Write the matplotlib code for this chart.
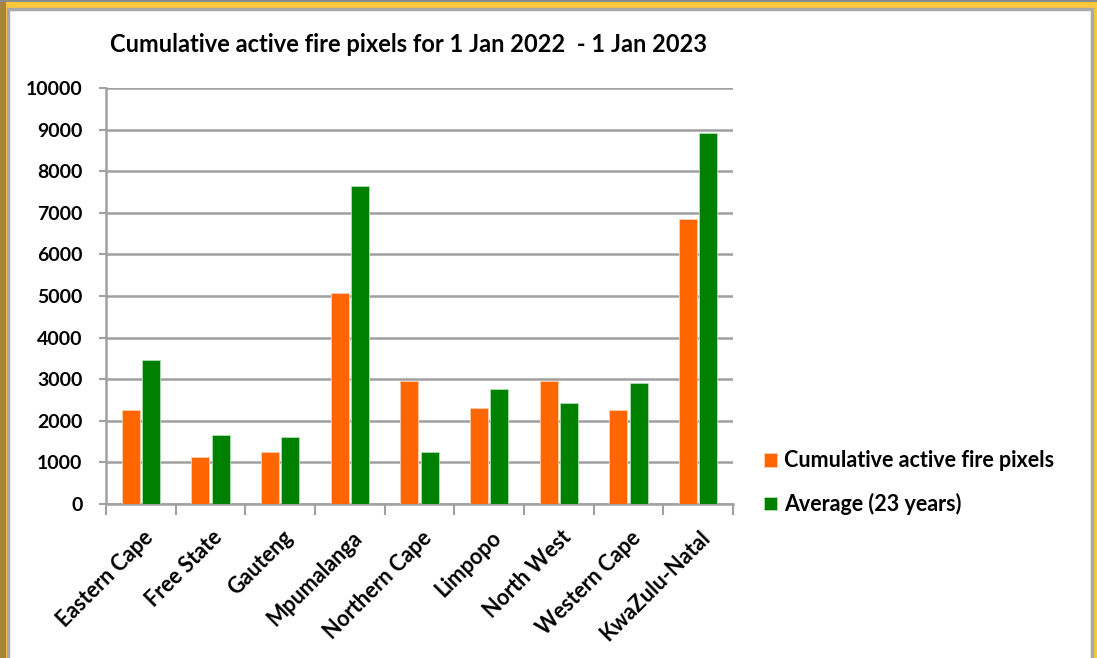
import matplotlib
matplotlib.use("Agg")
import matplotlib.pyplot as plt
import numpy as np
from matplotlib.patches import Rectangle

categories = ["Eastern Cape", "Free State", "Gauteng", "Mpumalanga", "Northern Cape",
              "Limpopo", "North West", "Western Cape", "KwaZulu-Natal"]
cumulative = [2260, 1140, 1260, 5070, 2950, 2300, 2950, 2260, 6850]
average = [3470, 1650, 1600, 7640, 1250, 2760, 2430, 2900, 8930]
yticks = list(range(0, 10001, 1000))

W, H = 1097, 658
fig = plt.figure(figsize=(W / 100, H / 100), dpi=100)
fig.patch.set_facecolor("#FFC73A")

def px(x0, y0, x1, y1, **kw):
    fig.patches.append(Rectangle((x0 / W, 1 - y1 / H), (x1 - x0) / W, (y1 - y0) / H,
                                 transform=fig.transFigure, figure=fig, zorder=-10, **kw))

px(0, 0, 6, H, facecolor="#A8843A", edgecolor="none")
px(0, 0, W, 1.5, facecolor="#8a8a8a", edgecolor="none")
px(8, 9, 1092, H + 20, facecolor="white", edgecolor="#A8A8A8", linewidth=2.5)

font = "Lato"
ax = fig.add_axes([106 / W, 1 - 504 / H, (733 - 106) / W, (504 - 88) / H])
ax.set_zorder(5)
ax.patch.set_alpha(0)
x = np.arange(len(categories))
bw = 0.26
gap = 0.015
ax.bar(x - bw / 2 - gap, cumulative, width=bw, color="#FF6600", edgecolor="#FFD0B0",
       linewidth=0.6, label="Cumulative active fire pixels", zorder=3)
ax.bar(x + bw / 2 + gap, average, width=bw, color="#008000", edgecolor="#B0E0B0",
       linewidth=0.6, label="Average (23 years)", zorder=3)

ax.set_xlim(-0.5, len(categories) - 0.5)
ax.set_ylim(0, 10000)
ax.set_yticks(yticks)
ax.set_yticklabels([str(v) for v in yticks], fontsize=14, fontweight="bold", family=font)
ax.yaxis.grid(True, color="#A0A0A0", linewidth=1.8, zorder=0)
ax.set_axisbelow(True)
for s in ["top", "right"]:
    ax.spines[s].set_visible(False)
for s in ["left", "bottom"]:
    ax.spines[s].set_color("#A0A0A0")
    ax.spines[s].set_linewidth(1.8)
ax.tick_params(axis="y", length=5, width=1.5, color="#A0A0A0", pad=12)
ax.set_xticks(np.arange(-0.5, len(categories), 1.0))
ax.set_xticklabels([])
ax.tick_params(axis="x", length=8, width=1.5, color="#A0A0A0")
for i, c in enumerate(categories):
    ax.text(i + 0.02, -550, c, rotation=45, ha="right", va="top", rotation_mode="anchor",
            fontsize=15.5, fontweight="bold", family=font, transform=ax.transData)

fig.text(408 / W, 1 - 45 / H, "Cumulative active fire pixels for 1 Jan 2022  - 1 Jan 2023",
         ha="center", va="center", fontsize=17, fontweight="bold", family=font)

leg = fig.legend(loc="upper left", bbox_to_anchor=(745 / W, 1 - 431 / H), frameon=False,
                 prop={"family": font, "size": 15.5, "weight": "bold"},
                 handlelength=0.6, handleheight=0.6, handletextpad=0.3, labelspacing=1.0)

fig.savefig("out.png", dpi=100, facecolor=fig.get_facecolor())
